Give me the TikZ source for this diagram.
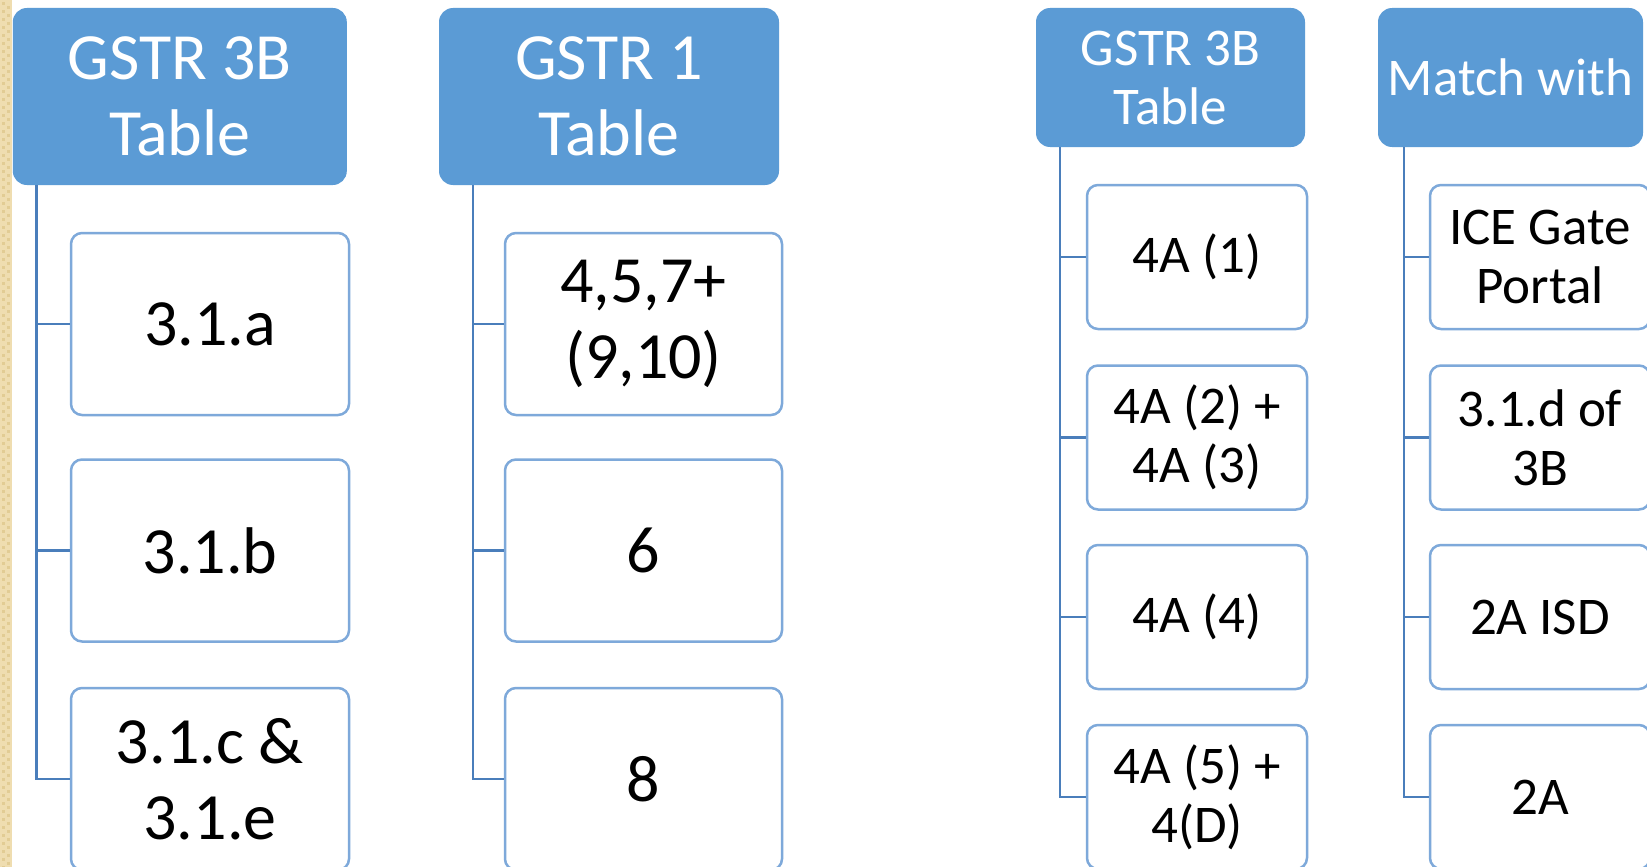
\documentclass[tikz,border=0pt]{standalone}
\usepackage{fontspec}
\setmainfont{Carlito}
\usetikzlibrary{calc}
\definecolor{hdrblue}{HTML}{5B9BD5}
\definecolor{boxline}{HTML}{7EA9DA}
\definecolor{treeline}{HTML}{4A7EBB}
\definecolor{beige}{HTML}{EFDDB0}
\definecolor{beigedark}{HTML}{E2CC94}

\begin{document}
\begin{tikzpicture}[x=1pt,y=-1pt,
  hdr/.style={fill=hdrblue, draw=none, rounded corners=14pt, text=white, align=center, inner sep=0pt},
  leaf/.style={draw=boxline, line width=2.5pt, fill=white, rounded corners=11pt, align=center, inner sep=0pt, text=black},
  big/.style={font=\fontsize{66}{76}\selectfont},
  small/.style={font=\fontsize{53}{59}\selectfont},
  tree/.style={draw=treeline, line width=2.5pt}]

\useasboundingbox (0,0) rectangle (1647,867);
\fill[white] (0,0) rectangle (1647,867);
% textured strip on the left edge
\fill[beige] (0,0) rectangle (12,867);
\foreach \yy in {0,8,...,864}{
  \fill[beigedark] (2,\yy+2) rectangle (5,\yy+5);
  \fill[beigedark] (7,\yy+6) rectangle (10,\yy+9);
}

% headers
\node[hdr, big, minimum width=334pt, minimum height=177pt] (h1) at (179.8,96.5) {GSTR 3B\\Table};
\node[hdr, big, minimum width=340pt, minimum height=177pt] (h2) at (609,96.5) {GSTR 1\\Table};
\node[hdr, small, minimum width=269pt, minimum height=139pt] (h3) at (1170.5,77.5) {GSTR 3B\\Table};
\node[hdr, small, minimum width=265pt, minimum height=139pt] (h4) at (1510.5,77.5) {Match with};

% first column
\node[leaf, big, minimum width=278pt, minimum height=182pt] (a1) at (210,324) {3.1.a};
\node[leaf, big, minimum width=278pt, minimum height=182pt] (a2) at (210,550.5) {3.1.b};
\node[leaf, big, minimum width=278pt, minimum height=182pt] (a3) at (210,779) {3.1.c \&\\3.1.e};

% second column
\node[leaf, big, minimum width=277pt, minimum height=182pt] (b1) at (643.5,324) {4,5,7+\\(9,10)};
\node[leaf, big, minimum width=277pt, minimum height=182pt] (b2) at (643.5,550.5) {6};
\node[leaf, big, minimum width=277pt, minimum height=182pt] (b3) at (643.5,779) {8};

% third column
\node[leaf, small, minimum width=220pt, minimum height=144pt] (c1) at (1197,257) {4A (1)};
\node[leaf, small, minimum width=220pt, minimum height=144pt] (c2) at (1197,437.5) {4A (2) +\\4A (3)};
\node[leaf, small, minimum width=220pt, minimum height=144pt] (c3) at (1197,617) {4A (4)};
\node[leaf, small, minimum width=220pt, minimum height=144pt] (c4) at (1197,797) {4A (5) +\\4(D)};

% fourth column
\node[leaf, small, minimum width=220pt, minimum height=144pt] (d1) at (1540,257) {ICE Gate\\Portal};
\node[leaf, small, minimum width=220pt, minimum height=144pt] (d2) at (1540,437.5) {3.1.d of\\3B};
\node[leaf, small, minimum width=220pt, minimum height=144pt] (d3) at (1540,617) {2A ISD};
\node[leaf, small, minimum width=220pt, minimum height=144pt] (d4) at (1540,797) {2A};

% tree connectors
\coordinate (t1) at ($(h1.south west)+(24,0)$);
\coordinate (t2) at ($(h2.south west)+(34,0)$);
\coordinate (t3) at ($(h3.south west)+(24,0)$);
\coordinate (t4) at ($(h4.south west)+(26,0)$);
\foreach \n in {a1,a2,a3}{\draw[tree] (t1) |- (\n.west);}
\foreach \n in {b1,b2,b3}{\draw[tree] (t2) |- (\n.west);}
\foreach \n in {c1,c2,c3,c4}{\draw[tree] (t3) |- (\n.west);}
\foreach \n in {d1,d2,d3,d4}{\draw[tree] (t4) |- (\n.west);}
\end{tikzpicture}
\end{document}
